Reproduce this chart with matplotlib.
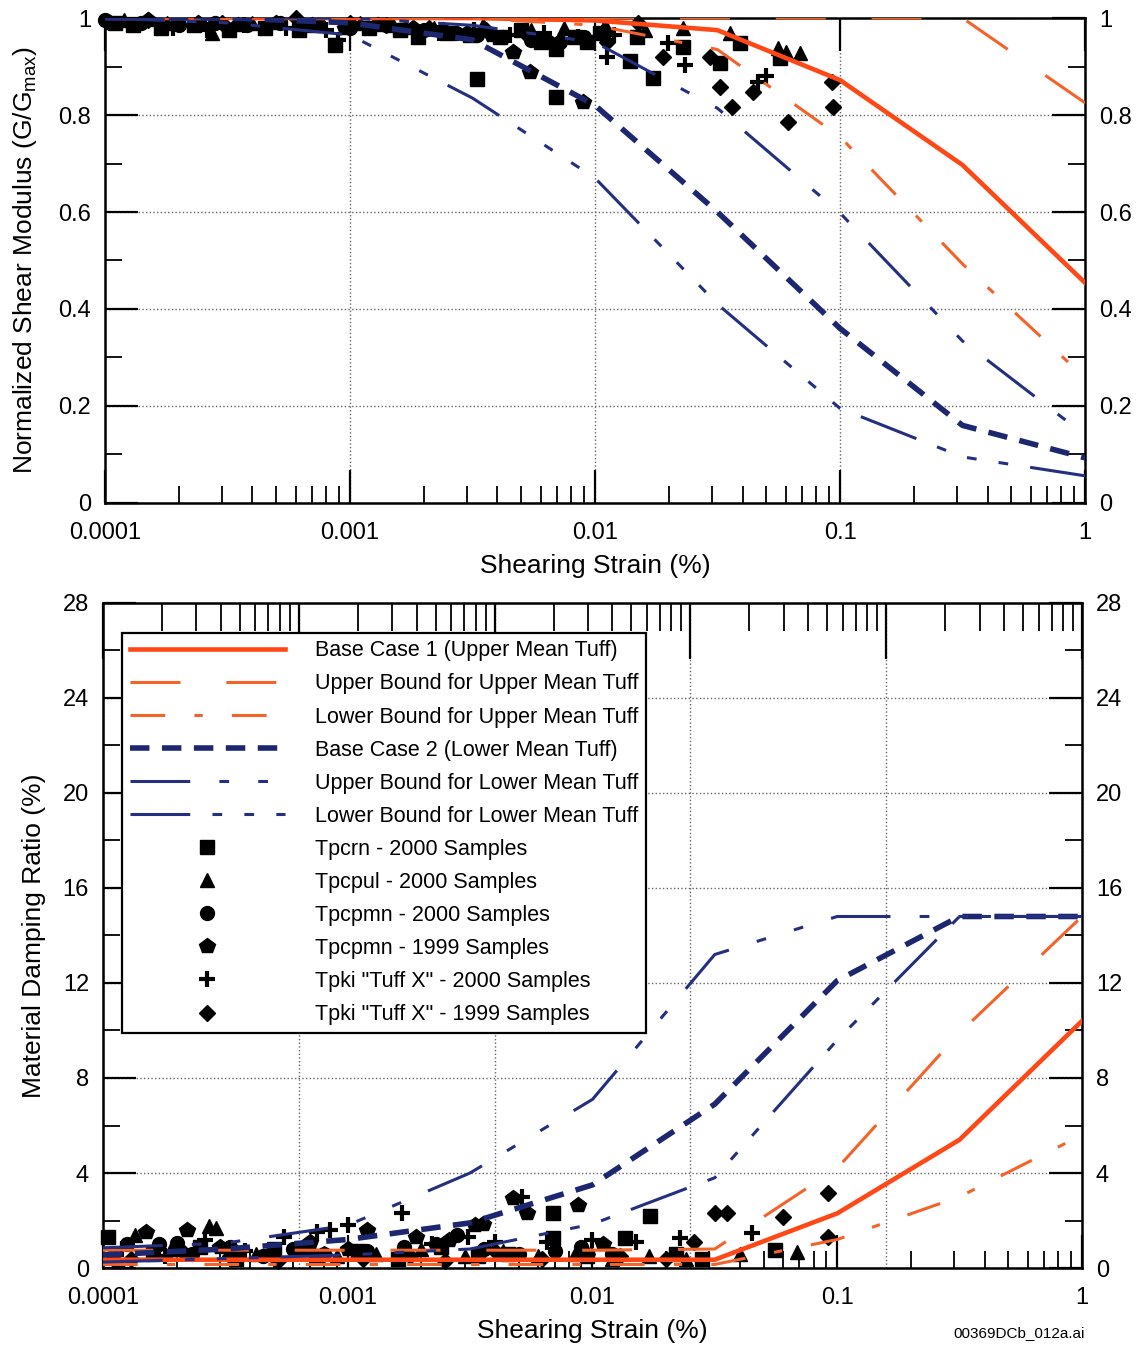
import numpy as np
import matplotlib
matplotlib.use("Agg")
import matplotlib.pyplot as plt
from matplotlib.ticker import LogLocator, MultipleLocator, FuncFormatter, NullFormatter

plt.rcParams["font.family"] = ["Liberation Sans", "DejaVu Sans"]
plt.rcParams["lines.scale_dashes"] = False

# ── curve strain points (%) ────────────────────────────────────────
curve_strain = [1e-4, 3.16e-4, 1e-3, 3.16e-3, 1e-2, 3.16e-2, 0.1, 0.316, 1.0]

# G/Gmax curves
g_base1 = [1.0, 1.0, 1.0, 1.0, 0.995, 0.975, 0.872, 0.697, 0.454]
g_upper_upper = [1.0, 1.0, 1.0, 1.0, 1.0, 1.0, 1.0, 1.0, 0.825]
g_lower_upper = [1.0, 1.0, 1.0, 1.0, 0.985, 0.935, 0.755, 0.493, 0.258]
g_base2 = [1.0, 1.0, 0.99, 0.955, 0.82, 0.60, 0.36, 0.16, 0.093]
g_upper_lower = [1.0, 1.0, 1.0, 0.985, 0.95, 0.814, 0.598, 0.334, 0.14]
g_lower_lower = [1.0, 0.99, 0.965, 0.835, 0.67, 0.41, 0.195, 0.095, 0.056]

# damping curves (%)
d_base1 = [0.35, 0.35, 0.35, 0.35, 0.35, 0.35, 2.3, 5.4, 10.4]
d_upper_upper = [0.75, 0.75, 0.75, 0.75, 0.75, 0.8, 4.2, 9.9, 14.8]
d_lower_upper = [0.15, 0.15, 0.15, 0.15, 0.15, 0.15, 1.2, 3.0, 5.6]
d_base2 = [0.55, 0.8, 1.2, 1.9, 3.5, 6.9, 12.1, 14.8, 14.8]
d_upper_lower = [0.85, 1.05, 1.8, 4.0, 7.1, 13.2, 14.8, 14.8, 14.8]
d_lower_lower = [0.25, 0.4, 0.55, 0.8, 1.85, 3.8, 9.6, 14.8, 14.8]

# ── test data, G/Gmax ──────────────────────────────────────────────
tpcrn_g_x = [1.1e-4, 1.3e-4, 1.7e-4, 2.3e-4, 3.2e-4, 4.5e-4, 6.2e-4, 8.7e-4, 1.2e-3, 1.6e-3,
             1.9e-3, 2.5e-3, 3.1e-3, 3.3e-3, 4.1e-3, 5.0e-3, 6.0e-3, 6.9e-3, 6.9e-3, 8.3e-3,
             9.3e-3, 1.05e-2, 1.39e-2, 1.48e-2, 1.73e-2, 2.29e-2, 3.24e-2, 3.9e-2, 5.7e-2]
tpcrn_g_y = [0.99, 0.985, 0.98, 0.985, 0.975, 0.98, 0.975, 0.944, 0.98, 0.975,
             0.96, 0.97, 0.965, 0.874, 0.96, 0.975, 0.95, 0.936, 0.837, 0.96,
             0.95, 0.97, 0.911, 0.96, 0.876, 0.94, 0.907, 0.948, 0.917]
tpcpul_g_x = [1.2e-4, 1.8e-4, 2.73e-4, 4.0e-4, 7.0e-4, 1.1e-3, 1.5e-3, 2.2e-3, 3.5e-3, 5.5e-3,
              7.5e-3, 1.1e-2, 1.6e-2, 2.29e-2, 3.56e-2, 5.58e-2, 6.0e-2, 6.87e-2]
tpcpul_g_y = [0.995, 0.99, 0.969, 0.99, 0.985, 0.99, 0.985, 0.98, 0.985, 0.975,
              0.98, 0.985, 0.975, 0.98, 0.97, 0.938, 0.93, 0.928]
tpcpmn00_g_x = [1.0e-4, 1.4e-4, 2.0e-4, 2.8e-4, 3.8e-4, 5.2e-4, 7.5e-4, 1.0e-3, 1.4e-3, 2.0e-3,
                2.7e-3, 3.3e-3, 4.2e-3, 5.5e-3, 7.2e-3, 9.0e-3]
tpcpmn00_g_y = [0.995, 0.99, 0.985, 0.99, 0.985, 0.99, 0.985, 0.98, 0.985, 0.975,
                0.97, 0.965, 0.96, 0.955, 0.95, 0.96]
tpcpmn99_g_x = [1.05e-4, 1.5e-4, 2.4e-4, 3.5e-4, 5.0e-4, 7.0e-4, 9.5e-4, 1.3e-3, 1.8e-3, 2.4e-3,
                3.0e-3, 3.8e-3, 4.63e-3, 5.43e-3, 6.5e-3, 8.94e-3]
tpcpmn99_g_y = [0.99, 0.995, 0.99, 0.985, 0.99, 0.985, 0.98, 0.985, 0.98, 0.975,
                0.97, 0.965, 0.93, 0.889, 0.95, 0.827]
tpki00_g_x = [1.3e-4, 1.9e-4, 2.6e-4, 3.7e-4, 5.5e-4, 8.0e-4, 8.9e-4, 1.25e-3, 1.7e-3, 2.3e-3,
              3.2e-3, 4.5e-3, 6.2e-3, 8.5e-3, 1.12e-2, 1.2e-2, 1.98e-2, 2.33e-2, 4.62e-2, 5.0e-2]
tpki00_g_y = [0.985, 0.98, 0.975, 0.985, 0.98, 0.975, 0.955, 0.98, 0.975, 0.97,
              0.975, 0.965, 0.97, 0.96, 0.92, 0.965, 0.948, 0.903, 0.868, 0.88]
tpki99_g_x = [1.5e-4, 3.0e-4, 6.0e-4, 1.0e-3, 1.4e-3, 2.1e-3, 3.6e-3, 5.2e-3, 1.12e-2, 1.5e-2,
              1.9e-2, 2.94e-2, 3.24e-2, 3.62e-2, 4.42e-2, 6.13e-2, 9.27e-2, 9.35e-2]
tpki99_g_y = [0.995, 0.99, 1.0, 0.99, 0.985, 0.98, 0.975, 0.97, 0.95, 0.99,
              0.92, 0.92, 0.858, 0.817, 0.848, 0.786, 0.868, 0.817]

# ── test data, damping (%) ─────────────────────────────────────────
tpcrn_d_x = [1.05e-4, 1.6e-4, 2.5e-4, 3.5e-4, 5.0e-4, 7.5e-4, 1.1e-3, 1.6e-3, 2.4e-3, 3.4e-3,
             4.5e-3, 6.9e-3, 6.9e-3, 9.5e-3, 1.36e-2, 1.72e-2, 2.2e-2, 2.8e-2, 5.57e-2]
tpcrn_d_y = [1.3, 0.6, 0.9, 0.4, 0.8, 0.5, 0.7, 0.4, 0.9, 0.5,
             0.6, 2.3, 1.26, 0.5, 1.26, 2.2, 0.6, 0.4, 0.75]
tpcpul_d_x = [1.15e-4, 1.35e-4, 1.9e-4, 2.7e-4, 2.9e-4, 4.2e-4, 6.5e-4, 9.0e-4, 1.3e-3, 2.0e-3,
              3.0e-3, 4.3e-3, 6.0e-3, 8.5e-3, 1.2e-2, 1.7e-2, 2.4e-2, 4.0e-2, 6.85e-2]
tpcpul_d_y = [0.3, 1.4, 0.8, 1.75, 1.7, 0.6, 0.9, 0.5, 0.6, 0.8,
              0.5, 0.7, 0.5, 0.6, 0.4, 0.5, 0.4, 0.6, 0.67]
tpcpmn00_d_x = [1.25e-4, 1.7e-4, 2.0e-4, 2.3e-4, 3.3e-4, 4.5e-4, 6.0e-4, 8.0e-4, 1.2e-3, 1.7e-3,
                2.3e-3, 2.8e-3, 3.6e-3, 5.0e-3, 7.0e-3, 9.0e-3, 1.2e-2]
tpcpmn00_d_y = [1.0, 1.0, 1.05, 0.6, 0.9, 0.5, 0.8, 0.6, 0.7, 0.9,
                1.0, 1.4, 0.8, 0.6, 0.7, 0.9, 0.6]
tpcpmn99_d_x = [1.1e-4, 1.5e-4, 2.2e-4, 3.0e-4, 4.8e-4, 7.0e-4, 1.0e-3, 1.2e-3, 1.9e-3, 2.6e-3,
                3.3e-3, 3.57e-3, 4.73e-3, 5.4e-3, 8.7e-3, 1.1e-2]
tpcpmn99_d_y = [0.5, 1.5, 1.6, 0.9, 0.6, 1.1, 0.8, 1.6, 1.3, 1.2,
                1.8, 1.85, 2.95, 2.3, 2.65, 1.0]
tpki00_d_x = [1.2e-4, 1.8e-4, 2.6e-4, 3.8e-4, 5.5e-4, 7.5e-4, 8.5e-4, 1.0e-3, 1.67e-3, 2.2e-3,
              3.1e-3, 4.0e-3, 5.16e-3, 6.5e-3, 1.0e-2, 1.5e-2, 2.28e-2, 4.49e-2]
tpki00_d_y = [0.8, 0.5, 1.2, 0.7, 1.3, 1.5, 1.6, 1.8, 2.3, 1.0,
              1.3, 1.1, 3.0, 1.1, 1.2, 1.1, 1.26, 1.47]
tpki99_d_x = [1.3e-4, 2.1e-4, 3.3e-4, 5.2e-4, 8.0e-4, 1.15e-3, 1.8e-3, 2.5e-3, 4.0e-3, 6.2e-3,
              9.5e-3, 1.3e-2, 2.0e-2, 2.6e-2, 3.16e-2, 3.56e-2, 6.0e-2, 9.17e-2, 9.17e-2]
tpki99_d_y = [0.4, 0.7, 0.5, 0.3, 0.6, 0.4, 0.5, 0.3, 0.7, 0.4,
              0.6, 0.5, 0.4, 1.1, 2.3, 2.3, 2.15, 3.15, 1.3]

labels = ["Base Case 1 (Upper Mean Tuff)", "Upper Bound for Upper Mean Tuff",
          "Lower Bound for Upper Mean Tuff", "Base Case 2 (Lower Mean Tuff)",
          "Upper Bound for Lower Mean Tuff", "Lower Bound for Lower Mean Tuff",
          "Tpcrn - 2000 Samples", "Tpcpul - 2000 Samples", "Tpcpmn - 2000 Samples",
          "Tpcpmn - 1999 Samples", 'Tpki "Tuff X" - 2000 Samples',
          'Tpki "Tuff X" - 1999 Samples']

RED = "#FF4816"
ORANGE = "#F4632A"
NAVY = "#24307F"
NAVY_DK = "#1D2770"

line_styles = [
    dict(color=RED, lw=3.3, linestyle="-"),
    dict(color=ORANGE, lw=2.2, dashes=(36, 33)),
    dict(color=ORANGE, lw=2.2, dashes=(25, 21, 6, 21)),
    dict(color=NAVY_DK, lw=4.0, dashes=(14, 9)),
    dict(color=NAVY, lw=2.2, dashes=(43, 21, 7, 21, 7, 21)),
    dict(color=NAVY, lw=2.2, dashes=(43, 16, 7, 16, 7, 16, 7, 16)),
]
marker_styles = [
    dict(marker="s", ms=10),
    dict(marker="^", ms=10.5),
    dict(marker="o", ms=10),
    dict(marker="p", ms=11.5),
    dict(marker="+", ms=12, mew=3),
    dict(marker="D", ms=8),
]

fmt = FuncFormatter(lambda v, p: f"{v:g}")


def style_axes(ax, ymax, ymaj, ymin):
    ax.set_xscale("log")
    ax.set_xlim(1e-4, 1)
    ax.set_ylim(0, ymax)
    ax.xaxis.set_major_locator(LogLocator(base=10, numticks=10))
    ax.xaxis.set_minor_locator(LogLocator(base=10, subs=np.arange(2, 10), numticks=20))
    ax.xaxis.set_major_formatter(fmt)
    ax.xaxis.set_minor_formatter(NullFormatter())
    ax.yaxis.set_major_locator(MultipleLocator(ymaj))
    ax.yaxis.set_minor_locator(MultipleLocator(ymin))
    ax.yaxis.set_major_formatter(fmt)
    ax.tick_params(which="both", direction="in", left=True, right=True, bottom=True,
                   labelright=True, labelsize=17)
    ax.tick_params(axis="y", pad=10)
    ax.tick_params(axis="x", pad=14)
    ax.tick_params(which="major", length=24, width=1.6)
    ax.tick_params(which="minor", length=12, width=1.3)
    for s in ax.spines.values():
        s.set_linewidth(1.8)
    ax.set_xlabel("Shearing Strain (%)", fontsize=19, labelpad=7)


def draw(ax, curves, data):
    handles = []
    for y, st in zip(curves, line_styles):
        h, = ax.plot(curve_strain, y, zorder=3, **st)
        handles.append(h)
    for (x, y), st in zip(data, marker_styles):
        h, = ax.plot(x, y, linestyle="none", color="black", mec="black", zorder=2,
                     clip_on=False, **st)
        handles.append(h)
    return handles


def main():
    fig = plt.figure(figsize=(11.47, 13.55), dpi=100)

    # ── top: modulus reduction ────────────────────────────────────
    ax1 = fig.add_axes([0.0915, 0.6288, 0.8545, 0.3579])
    style_axes(ax1, 1.0, 0.2, 0.1)
    ax1.tick_params(top=True)
    ax1.grid(True, which="major", linestyle=":", color="#666", linewidth=1)
    draw(ax1,
         [g_base1, g_upper_upper, g_lower_upper, g_base2, g_upper_lower, g_lower_lower],
         [(tpcrn_g_x, tpcrn_g_y), (tpcpul_g_x, tpcpul_g_y), (tpcpmn00_g_x, tpcpmn00_g_y),
          (tpcpmn99_g_x, tpcpmn99_g_y), (tpki00_g_x, tpki00_g_y), (tpki99_g_x, tpki99_g_y)])
    ax1.set_ylabel("Normalized Shear Modulus (G/G$_{\\mathregular{max}}$)", fontsize=19,
                   labelpad=14)

    # ── bottom: damping ───────────────────────────────────────────
    ax2 = fig.add_axes([0.0898, 0.0642, 0.8535, 0.4908])
    top2 = ax2.twiny()
    style_axes(ax2, 28, 4, 2)
    ax2.tick_params(top=False)
    ax2.grid(True, axis="y", which="major", linestyle=":", color="#666", linewidth=1)
    # the top scale of the original is drawn over five decades
    top2.set_xscale("log")
    top2.set_xlim(1e-5, 1)
    top2.xaxis.set_major_locator(LogLocator(base=10, numticks=10))
    top2.xaxis.set_minor_locator(LogLocator(base=10, subs=np.arange(2, 10), numticks=20))
    top2.tick_params(which="both", direction="in", labeltop=False)
    top2.tick_params(which="major", length=40, width=1.6)
    top2.tick_params(which="minor", length=20, width=1.3)
    top2.grid(True, axis="x", which="major", linestyle=":", color="#666", linewidth=1)
    ax2.set_zorder(top2.get_zorder() + 1)
    ax2.patch.set_visible(False)

    handles = draw(ax2,
                   [d_base1, d_upper_upper, d_lower_upper, d_base2, d_upper_lower, d_lower_lower],
                   [(tpcrn_d_x, tpcrn_d_y), (tpcpul_d_x, tpcpul_d_y),
                    (tpcpmn00_d_x, tpcpmn00_d_y), (tpcpmn99_d_x, tpcpmn99_d_y),
                    (tpki00_d_x, tpki00_d_y), (tpki99_d_x, tpki99_d_y)])
    ax2.set_ylabel("Material Damping Ratio (%)", fontsize=19, labelpad=12)

    leg = ax2.legend(handles, labels, loc="upper left", bbox_to_anchor=(0.0194, 0.955),
                     borderaxespad=0, fontsize=15.5, frameon=True, fancybox=False,
                     framealpha=1, edgecolor="black", handlelength=7.2, handletextpad=1.4,
                     labelspacing=0.56, borderpad=0.35, numpoints=1)
    leg.get_frame().set_linewidth(1.6)
    leg.set_zorder(5)

    fig.text(0.946, 0.016, "00369DCb_012a.ai", ha="right", va="center", fontsize=11)

    fig.savefig("out.png", dpi=100)
    plt.close(fig)


if __name__ == "__main__":
    main()
